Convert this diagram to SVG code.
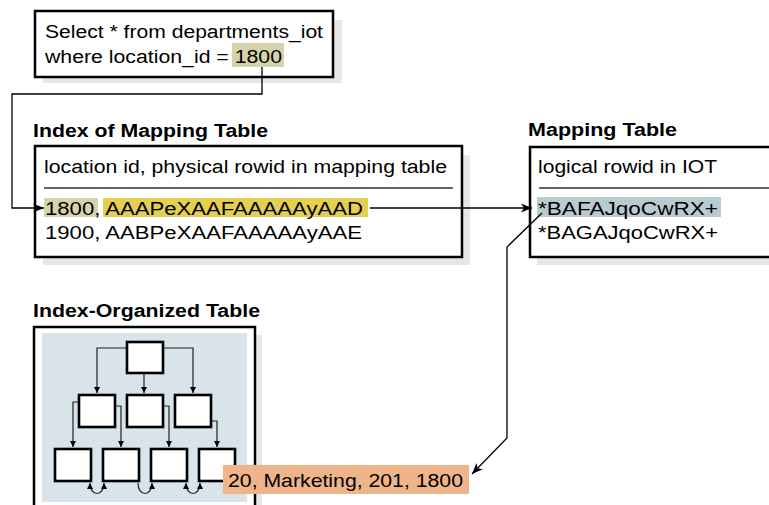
<svg xmlns="http://www.w3.org/2000/svg" width="769" height="505" viewBox="0 0 769 505">
<defs>
<marker id="arr" markerUnits="userSpaceOnUse" markerWidth="12" markerHeight="10" refX="11" refY="5" orient="auto-start-reverse"><path d="M0,0.5 L11,5 L0,9.5 L3,5 Z" fill="#000"/></marker>
<marker id="sarr" markerUnits="userSpaceOnUse" markerWidth="7" markerHeight="6" refX="6" refY="3" orient="auto-start-reverse"><path d="M0,0 L6,3 L0,6 Z" fill="#000"/></marker>
<style>
.t{font-family:"Liberation Sans",Arial,sans-serif;font-size:18px;fill:#000}
.b{font-weight:bold}
.box{fill:#fff;stroke:#000;stroke-width:2.5}
.sh{fill:#e6e6e6}
.ln{fill:none;stroke:#000;stroke-width:1.3}
.tl{fill:none;stroke:#222;stroke-width:1.2}
.tb{fill:#fff;stroke:#000;stroke-width:2.6}
</style>
</defs>
<rect width="769" height="505" fill="#fff"/>

<g id="query">
<rect class="sh" x="43" y="20" width="299" height="63"/>
<rect class="box" x="35" y="11" width="298" height="66"/>
<rect x="232" y="43" width="52" height="24" fill="#d6d3ac"/>
<text class="t" x="45" y="38" textLength="278" lengthAdjust="spacingAndGlyphs">Select * from departments_iot</text>
<text class="t" x="45" y="63" textLength="237" lengthAdjust="spacingAndGlyphs">where location_id = 1800</text>
</g>

<g id="index-mapping">
<text class="t b" x="33" y="137" textLength="235" lengthAdjust="spacingAndGlyphs">Index of Mapping Table</text>
<rect class="sh" x="43" y="155" width="427" height="110"/>
<rect class="box" x="35" y="146" width="427" height="111"/>
<text class="t" x="44" y="173" textLength="403" lengthAdjust="spacingAndGlyphs">location id, physical rowid in mapping table</text>
<line x1="44" y1="188" x2="453" y2="188" stroke="#333" stroke-width="1.3"/>
<rect x="44" y="198" width="54" height="19" fill="#d6d3ac"/>
<rect x="103" y="198" width="265" height="19" fill="#e6cf50"/>
<text class="t" x="45" y="215" textLength="318" lengthAdjust="spacingAndGlyphs">1800, AAAPeXAAFAAAAAyAAD</text>
<text class="t" x="45" y="239" textLength="317" lengthAdjust="spacingAndGlyphs">1900, AABPeXAAFAAAAAyAAE</text>
</g>

<g id="mapping-table">
<text class="t b" x="528" y="136" textLength="149" lengthAdjust="spacingAndGlyphs">Mapping Table</text>
<rect class="sh" x="537" y="155" width="240" height="110"/>
<rect class="box" x="530" y="147" width="260" height="110"/>
<text class="t" x="538" y="173" textLength="179" lengthAdjust="spacingAndGlyphs">logical rowid in IOT</text>
<line x1="539" y1="188" x2="769" y2="188" stroke="#333" stroke-width="1.3"/>
<rect x="537" y="197" width="184" height="20" fill="#b8cbd0"/>
<text class="t" x="538" y="215" textLength="180" lengthAdjust="spacingAndGlyphs">*BAFAJqoCwRX+</text>
<text class="t" x="538" y="239" textLength="180" lengthAdjust="spacingAndGlyphs">*BAGAJqoCwRX+</text>
</g>

<g id="iot">
<text class="t b" x="33" y="317" textLength="227" lengthAdjust="spacingAndGlyphs">Index-Organized Table</text>
<rect class="sh" x="42" y="335" width="220" height="180"/>
<rect class="box" x="34" y="327" width="221" height="200"/>
<rect x="42" y="333" width="205" height="169" fill="#d9e3ea"/>
<g id="tree-lines">
<path class="tl" d="M127,348 H97 V393" marker-end="url(#sarr)"/>
<path class="tl" d="M163,348 H193 V393" marker-end="url(#sarr)"/>
<path class="tl" d="M144,373 V393" marker-end="url(#sarr)"/>
<path class="tl" d="M79,402 H73 V447" marker-end="url(#sarr)"/>
<path class="tl" d="M115,406 H121 V447" marker-end="url(#sarr)"/>
<path class="tl" d="M163,406 H169 V447" marker-end="url(#sarr)"/>
<path class="tl" d="M211,421 H217 V447" marker-end="url(#sarr)"/>
<path class="tl" d="M90,483 C90,497 104,497 104,483" marker-start="url(#sarr)" marker-end="url(#sarr)"/>
<path class="tl" d="M138,483 C138,497 152,497 152,483" marker-end="url(#sarr)"/>
<path class="tl" d="M186,483 C186,497 200,497 200,483" marker-start="url(#sarr)" marker-end="url(#sarr)"/>
</g>
<rect class="tb" x="127" y="342" width="36" height="31"/>
<rect class="tb" x="79" y="395" width="36" height="32"/>
<rect class="tb" x="127" y="395" width="36" height="32"/>
<rect class="tb" x="175" y="395" width="36" height="32"/>
<rect class="tb" x="55" y="449" width="36" height="32"/>
<rect class="tb" x="103" y="449" width="36" height="32"/>
<rect class="tb" x="151" y="449" width="36" height="32"/>
<rect class="tb" x="199" y="449" width="36" height="32"/>
</g>

<g id="row-label">
<rect x="223" y="465" width="246" height="29" fill="#f0b48a"/>
<text class="t" x="228" y="487" textLength="235" lengthAdjust="spacingAndGlyphs">20, Marketing, 201, 1800</text>
</g>

<g id="connectors">
<path class="ln" d="M262,67 V94 H12 V208 H44" marker-end="url(#arr)"/>
<path class="ln" d="M370,208 H532" marker-end="url(#arr)"/>
<path class="ln" d="M542,213 L507,247 V438 L472,474" marker-end="url(#arr)"/>
</g>
</svg>
